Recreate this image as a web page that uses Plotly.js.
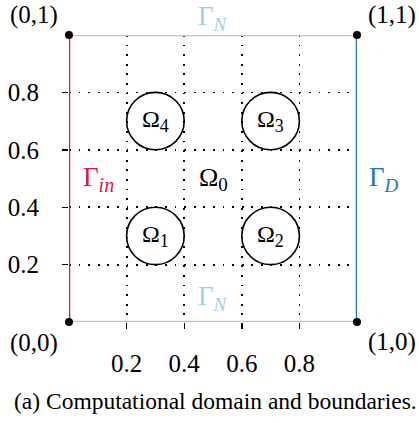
<!DOCTYPE html>
<html><head><meta charset="utf-8">
<script src="https://cdn.plot.ly/plotly-3.0.1.min.js"></script>
<style>html,body{margin:0;padding:0;background:#fff;}#plot{width:419px;height:423px;}</style>
</head><body><div id="plot"></div>
<script>
// Domain corners
const cornerX = [0, 1, 1, 0];
const cornerY = [0, 0, 1, 1];
const cornerLabels = ["(0,0)", "(1,0)", "(1,1)", "(0,1)"];
// Boundaries
const inflowX = [0, 0], inflowY = [0, 1];
const dirichletX = [1, 1], dirichletY = [0, 1];
const neumannTopX = [0, 1], neumannTopY = [1, 1];
const neumannBotX = [0, 1], neumannBotY = [0, 0];
// Obstacles (circles)
const circleCX = [0.3, 0.7, 0.7, 0.3];
const circleCY = [0.3, 0.3, 0.7, 0.7];
const circleR = 0.1;
const circleSubs = ["1", "2", "3", "4"];
// Ticks
const tickVals = [0.2, 0.4, 0.6, 0.8];
const tickText = ["0.2", "0.4", "0.6", "0.8"];
const caption = "(a) Computational domain and boundaries.";

const cRed = "#d8174a", cBlue = "#1f78b4", cLight = "#a6cee3";
const font = "Liberation Serif";
const sub = (base, s, size, ital) => base + "<sub><span style='font-size:" + size + "px'>" + (ital ? "<i>" + s + "</i>" : s) + "</span></sub>";

const line = (x, y, c) => ({x, y, mode: "lines", type: "scatter", line: {color: c, width: 2.5}, cliponaxis: false, hoverinfo: "skip", showlegend: false});
const traces = [
  line(neumannTopX, neumannTopY, cLight),
  line(neumannBotX, neumannBotY, cLight),
  line(inflowX, inflowY, cRed),
  line(dirichletX, dirichletY, cBlue),
  {x: cornerX, y: cornerY, mode: "markers", type: "scatter", marker: {color: "#000", size: 8}, cliponaxis: false, showlegend: false, hoverinfo: "skip"}
];

const shapes = circleCX.map((cx, i) => ({
  type: "circle", xref: "x", yref: "y",
  x0: cx - circleR, x1: cx + circleR, y0: circleCY[i] - circleR, y1: circleCY[i] + circleR,
  line: {color: "#000", width: 1.6}, fillcolor: "rgba(0,0,0,0)", layer: "above"
}));

const annotations = [];
circleCX.forEach((cx, i) => annotations.push({x: cx, y: circleCY[i], text: sub("Ω", circleSubs[i], 18, false), showarrow: false, font: {family: font, size: 24, color: "#000"}}));
annotations.push({x: 0.5, y: 0.5, text: sub("Ω", "0", 19, false), showarrow: false, font: {family: font, size: 26, color: "#000"}});
annotations.push({x: 0.5, y: 1, yshift: 17, text: sub("Γ", "N", 19, true), showarrow: false, font: {family: font, size: 27, color: cLight}});
annotations.push({x: 0.5, y: 0, yshift: 24, text: sub("Γ", "N", 19, true), showarrow: false, font: {family: font, size: 27, color: cLight}});
annotations.push({x: 0, y: 0.5, xshift: 29, text: sub("Γ", "in", 20, true), showarrow: false, font: {family: font, size: 27, color: cRed}});
annotations.push({x: 1, y: 0.5, xshift: 27, text: sub("Γ", "D", 19, true), showarrow: false, font: {family: font, size: 27, color: cBlue}});
const cornerShift = [[-35, -21], [35, -20], [35, 20], [-35, 20]];
cornerX.forEach((x, i) => annotations.push({x, y: cornerY[i], xshift: cornerShift[i][0], yshift: cornerShift[i][1], text: cornerLabels[i], showarrow: false, font: {family: font, size: 25, color: "#000"}}));
annotations.push({xref: "paper", yref: "paper", x: 0.5, y: 0, xshift: 2, yshift: -79, yanchor: "middle", text: caption, showarrow: false, font: {family: font, size: 23.5, color: "#000"}});

const axis = {
  range: [0, 1], tickvals: tickVals, ticktext: tickText, showgrid: true,
  gridcolor: "#000", gridwidth: 1.8, griddash: "1.8px,7.8px", zeroline: false, showline: false,
  ticks: "outside", ticklen: 6, tickwidth: 1.4, tickcolor: "#000",
  tickfont: {family: font, size: 25, color: "#000"}, fixedrange: true
};

const layout = {
  width: 419, height: 423,
  margin: {l: 69, r: 62, t: 35, b: 101},
  paper_bgcolor: "#fff", plot_bgcolor: "#fff",
  xaxis: Object.assign({}, axis, {ticklabelstandoff: 13}),
  yaxis: Object.assign({}, axis, {ticklabelstandoff: 18}),
  shapes, annotations, showlegend: false
};
Plotly.newPlot("plot", traces, layout, {displayModeBar: false, staticPlot: true});
</script></body></html>
